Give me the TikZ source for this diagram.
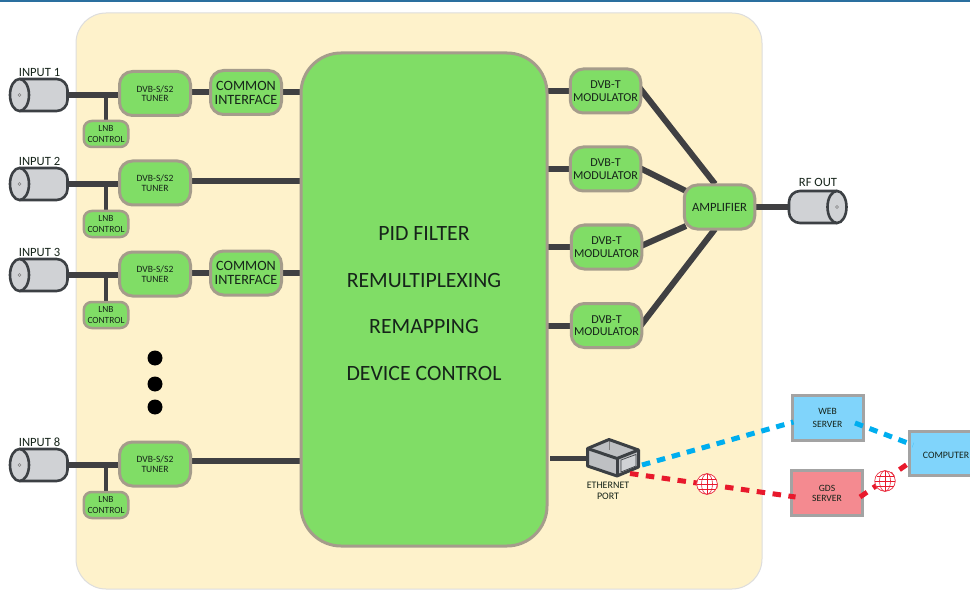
\documentclass[tikz,border=0pt]{standalone}
\usepackage{fontspec}
\setmainfont{Carlito}
\usetikzlibrary{backgrounds,calc}
\definecolor{panelc}{HTML}{FEF2CB}
\definecolor{panelb}{HTML}{DDDDDD}
\definecolor{greenc}{HTML}{80DD66}
\definecolor{greenb}{HTML}{A59C8B}
\definecolor{wirec}{HTML}{404042}
\definecolor{cylc}{HTML}{D0D2D5}
\definecolor{cylb}{HTML}{3C4044}
\definecolor{bluec}{HTML}{80D4FB}
\definecolor{redc}{HTML}{F48A90}
\definecolor{srvb}{HTML}{A3A3A3}
\definecolor{dashblue}{HTML}{00AEEF}
\definecolor{dashred}{HTML}{E8192C}
\definecolor{inkc}{HTML}{16241A}
\definecolor{topbar}{HTML}{2A6F9F}
\definecolor{portc}{HTML}{BEC0C3}
\newcommand{\fnt}[2]{\fontsize{#1}{#2}\selectfont}
\tikzset{
  x=1pt,y=-1pt,
  box/.style={draw=greenb,fill=greenc,line width=3pt,rounded corners=13pt,inner sep=0pt,outer sep=0pt,align=center,text=inkc},
  tunerbox/.style={box,minimum width=71pt,minimum height=44pt,font=\fnt{9.6}{9.5}},
  cibox/.style={box,minimum width=71pt,minimum height=44pt,font=\fnt{14.2}{14}},
  lnbbox/.style={box,line width=2.5pt,rounded corners=8pt,minimum width=44.5pt,minimum height=26pt,font=\fnt{9.4}{11}},
  modbox/.style={box,minimum width=70.5pt,minimum height=44pt,font=\fnt{12.1}{12.5}},
  srvbox/.style={draw=srvb,line width=3pt,inner sep=0pt,outer sep=0pt,align=center,text=inkc,minimum width=71pt,minimum height=45pt,font=\fnt{9.6}{12.5}},
  wire/.style={draw=wirec,line width=6pt},
  thinwire/.style={draw=wirec,line width=3.5pt},
  bluedash/.style={draw=dashblue,line width=5pt,dash pattern=on 8.5pt off 7pt},
  reddash/.style={draw=dashred,line width=5pt,dash pattern=on 8.5pt off 7.5pt},
  lab/.style={inner sep=0pt,outer sep=0pt,text=inkc,font=\fnt{12.6}{13}},
  cylanchor/.style={inner sep=0pt,outer sep=0pt,minimum width=58pt,minimum height=32pt},
  cylline/.style={draw=cylb,line width=2.6pt,fill=cylc},
}
\newcommand{\cylin}[3]{% name, cx, cy : face to the left
  \draw[cylline,rounded corners=11pt] (#2-19,#3-16) -- (#2+29,#3-16) -- (#2+29,#3+16) -- (#2-19,#3+16);
  \draw[cylline] (#2-19,#3) ellipse [x radius=9.5,y radius=16];
  \draw[draw=gray,line width=.5pt] (#2-19,#3) circle [radius=1.5];
  \node[cylanchor] (#1) at (#2,#3) {};
}
\newcommand{\cylout}[3]{% face to the right
  \draw[cylline,rounded corners=11pt] (#2+19,#3-16) -- (#2-29,#3-16) -- (#2-29,#3+16) -- (#2+19,#3+16);
  \draw[cylline] (#2+19,#3) ellipse [x radius=9.5,y radius=16];
  \draw[draw=gray,line width=.5pt] (#2+19,#3) circle [radius=1.5];
  \node[cylanchor] (#1) at (#2,#3) {};
}
\newcommand{\globe}[3]{%
  \node[circle,fill=white,minimum size=21pt,inner sep=0pt,outer sep=0pt] (#1) at (#2,#3) {};
  \begin{scope}[draw=dashred,line width=.6pt]
    \draw (#2,#3) circle [radius=10.3];
    \draw (#2,#3) ellipse [x radius=5.5,y radius=10.3];
    \draw (#2,#3-10.3) -- (#2,#3+10.3);
    \draw (#2-8.5,#3-5) -- (#2+8.5,#3-5);
    \draw (#2-10.3,#3) -- (#2+10.3,#3);
    \draw (#2-8.5,#3+5) -- (#2+8.5,#3+5);
  \end{scope}
}
\begin{document}
\begin{tikzpicture}
\useasboundingbox (0,0) rectangle (970,591);

% main
\node[box,rounded corners=40pt,minimum width=246pt,minimum height=493pt] (main) at (424,299.5) {};
\node[lab,align=center,font=\fnt{21.8}{46.7}] (maintext) at (424,303.5)
  {PID FILTER\\REMULTIPLEXING\\REMAPPING\\DEVICE CONTROL};

% inputs
\cylin{in1}{38.5}{95}
\cylin{in2}{38.5}{184}
\cylin{in3}{38.5}{275}
\cylin{in8}{38.5}{465}
\node[lab] (l1) at (39.5,72) {INPUT 1};
\node[lab] (l2) at (39.5,161) {INPUT 2};
\node[lab] (l3) at (39.5,252) {INPUT 3};
\node[lab] (l8) at (39.5,442) {INPUT 8};

% tuners
\node[tunerbox] (t1) at (155,93.5) {DVB-S/S2\\TUNER};
\node[tunerbox] (t2) at (155,183) {DVB-S/S2\\TUNER};
\node[tunerbox] (t3) at (155,274) {DVB-S/S2\\TUNER};
\node[tunerbox] (t8) at (155,464) {DVB-S/S2\\TUNER};

% LNB
\node[lnbbox] (n1) at (106,134) {LNB\\CONTROL};
\node[lnbbox] (n2) at (106,224) {LNB\\CONTROL};
\node[lnbbox] (n3) at (106,315) {LNB\\CONTROL};
\node[lnbbox] (n8) at (106,505) {LNB\\CONTROL};

% common interface
\node[cibox] (c1) at (246,92.5) {COMMON\\INTERFACE};
\node[cibox] (c3) at (246,273) {COMMON\\INTERFACE};

% modulators
\node[modbox] (m1) at (605.5,91) {DVB-T\\MODULATOR};
\node[modbox] (m2) at (605.5,169) {DVB-T\\MODULATOR};
\node[modbox] (m3) at (606.5,247) {DVB-T\\MODULATOR};
\node[modbox] (m4) at (606.5,325.5) {DVB-T\\MODULATOR};

% amplifier, output
\node[box,minimum width=70.5pt,minimum height=44pt,font=\fnt{12.6}{13}] (amp) at (719.5,207) {AMPLIFIER};
\cylout{rf}{818}{207}
\node[lab] (lrf) at (818,182) {RF OUT};

% dots
\fill[black] (155,358) circle [radius=7.5];
\fill[black] (155,384) circle [radius=7.5];
\fill[black] (155,407) circle [radius=7.5];

% ethernet port
\node[inner sep=0pt,outer sep=0pt,minimum width=52pt,minimum height=38pt] (port) at (613,457) {};
\coordinate (pA) at (609,439.5);
\coordinate (pB) at (587.5,448.5);
\coordinate (pC) at (617,458.5);
\coordinate (pD) at (638.5,450);
\coordinate (pE) at (587.5,466);
\coordinate (pF) at (617,476);
\coordinate (pG) at (638.5,467);
\fill[portc] (pA) -- (pB) -- (pE) -- (pF) -- (pG) -- (pD) -- cycle;
\draw[draw=gray,line width=.7pt] (pA) -- (609,450);
\draw[draw=cylb,line width=3pt,line join=round] (pA) -- (pB) -- (pE) -- (pF) -- (pG) -- (pD) -- cycle;
\draw[draw=cylb,line width=3pt,line join=round] (pB) -- (pC) -- (pD);
\draw[draw=cylb,line width=3pt] (pC) -- (pF);
\draw[draw=cylb,line width=.7pt,fill=cylc] (621,460) -- (636,454.5) -- (636,466) -- (621,472) -- cycle;
\node[lab,align=center,font=\fnt{10}{11}] (lport) at (608,491) {ETHERNET\\PORT};

% servers
\node[srvbox,fill=bluec] (web) at (827.5,418) {WEB\\SERVER};
\node[srvbox,fill=redc,font=\fnt{9.6}{10}] (gds) at (827,493) {GDS\\SERVER};
\node[srvbox,fill=bluec,minimum width=76pt,minimum height=44pt,anchor=west] (comp) at (909.5,453.5) {};
\node[lab,font=\fnt{9.8}{12}] (lcomp) at (946,455) {COMPUTER};

% connectors under the boxes
\begin{scope}[on background layer]
  \fill[white] (0,0) rectangle (970,591);
  \fill[topbar] (0,0) rectangle (970,2);
  \fill[panelc,draw=panelb,line width=1pt,rounded corners=30pt] (76,13) rectangle (762,589);
  \draw[wire] (in1.east) -- (in1.east -| t1.west);
  \draw[wire] (in2.east) -- (in2.east -| t2.west);
  \draw[wire] (in3.east) -- (in3.east -| t3.west);
  \draw[wire] (in8.east) -- (in8.east -| t8.west);
  \draw[thinwire] (n1.north) -- (n1.north |- in1.east);
  \draw[thinwire] (n2.north) -- (n2.north |- in2.east);
  \draw[thinwire] (n3.north) -- (n3.north |- in3.east);
  \draw[thinwire] (n8.north) -- (n8.north |- in8.east);
  \draw[wire] (c1.west -| t1.east) -- (c1.west);
  \draw[wire] (c1.east) -- (c1.east -| main.west);
  \draw[wire] (c3.west -| t3.east) -- (c3.west);
  \draw[wire] (c3.east) -- (c3.east -| main.west);
  \coordinate (t2o) at ($(t2.east)+(0,-2)$);
  \coordinate (t8o) at ($(t8.east)+(0,-3)$);
  \draw[wire] (t2o) -- (t2o -| main.west);
  \draw[wire] (t8o) -- (t8o -| main.west);
  \draw[wire] (m1.west -| main.east) -- (m1.west);
  \draw[wire] (m2.west -| main.east) -- (m2.west);
  \draw[wire] (m3.west -| main.east) -- (m3.west);
  \draw[wire] (m4.west -| main.east) -- (m4.west);
  \coordinate (m1o) at ($(m1.east)+(-1,-3)$);
  \coordinate (m2o) at ($(m2.east)+(-1,-1)$);
  \coordinate (m3o) at ($(m3.east)+(-3,0)$);
  \coordinate (m4o) at ($(m4.east)+(-1,0)$);
  \coordinate (a1) at (715,184);
  \coordinate (a2) at (686,191);
  \coordinate (a3) at (686,226);
  \coordinate (a4) at (715,229);
  \draw[wire] (m1o) -- (a1);
  \draw[wire] (m2o) -- (a2);
  \draw[wire] (m3o) -- (a3);
  \draw[wire] (m4o) -- (a4);
  \draw[wire] (amp.east) -- (rf.west);
  \coordinate (portin) at ($(port.west)+(-37,1)$);
  \draw[wire,line width=5pt] (portin) -- (portin -| port.west);
\end{scope}

% network links
\coordinate (pb) at (642,465);
\coordinate (pr) at (630,473.5);
\coordinate (wi) at (793.5,422);
\coordinate (wo) at (855,423);
\coordinate (ci) at (913,445);
\coordinate (gi) at (795.5,497);
\coordinate (go) at (860,497);
\coordinate (cr) at (910.5,462);
\draw[bluedash] (pb) -- (wi);
\draw[bluedash] (wo) -- (ci);
\draw[reddash] (pr) -- (gi);
\draw[reddash] (go) -- (cr);
\globe{g1}{707}{484}
\globe{g2}{885}{481}
\end{tikzpicture}
\end{document}
